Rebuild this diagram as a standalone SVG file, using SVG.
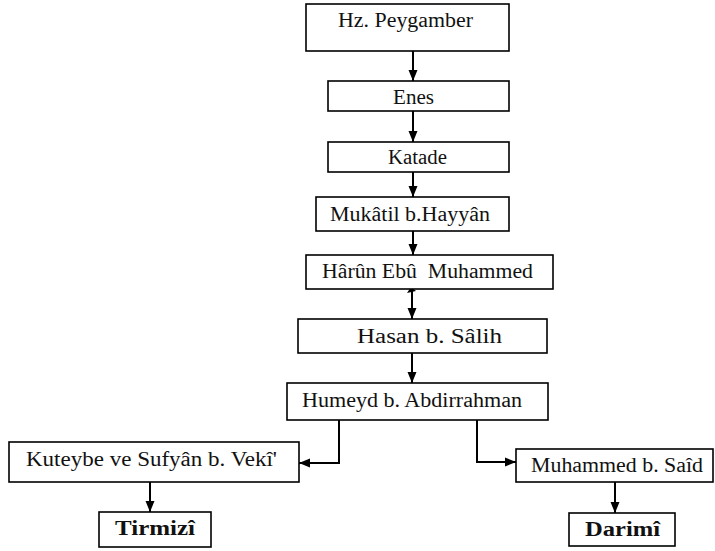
<svg xmlns="http://www.w3.org/2000/svg" width="715" height="551" viewBox="0 0 715 551">
<style>
.n{fill:#fff;stroke:#000;stroke-width:1.6}
text{font-family:"Liberation Serif","Times New Roman",serif;font-size:20px;fill:#111}
.b{font-weight:bold}
.c{fill:none;stroke:#000;stroke-width:2}
</style>
<defs>
<marker id="ah" markerUnits="userSpaceOnUse" markerWidth="12" markerHeight="12" viewBox="0 0 12 12" refX="11" refY="6" orient="auto">
<path d="M0,1.5 L11,6 L0,10.5 Z" fill="#000"/>
</marker>
</defs>
<rect width="715" height="551" fill="#fff"/>
<g id="connectors">
<path class="c" d="M413,51 V81" marker-end="url(#ah)"/>
<path class="c" d="M413,111 V142" marker-end="url(#ah)"/>
<path class="c" d="M413,172 V197" marker-end="url(#ah)"/>
<path class="c" d="M413,231 V255" marker-end="url(#ah)"/>
<path class="c" d="M412,289 V319" marker-end="url(#ah)"/>
<path d="M407,293 L411,287 L416,291 Z" fill="#000"/>
<path class="c" d="M412,353 V383" marker-end="url(#ah)"/>
<path class="c" d="M339,420 V463 H299" marker-end="url(#ah)"/>
<path class="c" d="M477,420 V462 H516" marker-end="url(#ah)"/>
<path class="c" d="M150,482 V512" marker-end="url(#ah)"/>
<path class="c" d="M615,482 V513" marker-end="url(#ah)"/>
</g>
<g id="n1"><rect class="n" x="306" y="4" width="203" height="47"/><text x="338" y="27" textLength="135" lengthAdjust="spacingAndGlyphs">Hz. Peygamber</text></g>
<g id="n2"><rect class="n" x="328" y="81" width="181" height="30"/><text x="393" y="104" textLength="41" lengthAdjust="spacingAndGlyphs">Enes</text></g>
<g id="n3"><rect class="n" x="328" y="142" width="181" height="30"/><text x="388" y="164" textLength="59" lengthAdjust="spacingAndGlyphs">Katade</text></g>
<g id="n4"><rect class="n" x="316" y="197" width="193" height="34"/><text x="330" y="221" textLength="160" lengthAdjust="spacingAndGlyphs">Mukâtil b.Hayyân</text></g>
<g id="n5"><rect class="n" x="306" y="255" width="247" height="34"/><text x="322" y="278" textLength="211" lengthAdjust="spacingAndGlyphs" xml:space="preserve">Hârûn Ebû  Muhammed</text></g>
<g id="n6"><rect class="n" x="298" y="319" width="249" height="34"/><text x="357" y="343" textLength="145" lengthAdjust="spacingAndGlyphs">Hasan b. Sâlih</text></g>
<g id="n7"><rect class="n" x="287" y="383" width="261" height="37"/><text x="302" y="407" textLength="220" lengthAdjust="spacingAndGlyphs">Humeyd b. Abdirrahman</text></g>
<g id="n8"><rect class="n" x="9" y="442" width="290" height="40"/><text x="26" y="466" textLength="251" lengthAdjust="spacingAndGlyphs">Kuteybe ve Sufyân b. Vekî'</text></g>
<g id="n9"><rect class="n" x="516" y="449" width="197" height="33"/><text x="531" y="472" textLength="172" lengthAdjust="spacingAndGlyphs">Muhammed b. Saîd</text></g>
<g id="n10"><rect class="n" x="99" y="512" width="112" height="35"/><text class="b" x="115" y="535" textLength="80" lengthAdjust="spacingAndGlyphs">Tirmizî</text></g>
<g id="n11"><rect class="n" x="569" y="513" width="106" height="33"/><text class="b" x="585" y="536" textLength="75" lengthAdjust="spacingAndGlyphs">Darimî</text></g>
</svg>
